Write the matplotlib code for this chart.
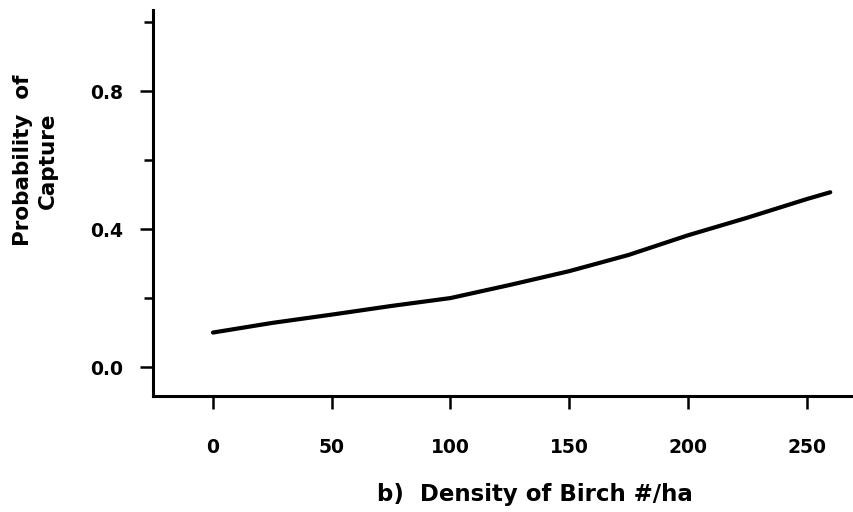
import matplotlib
matplotlib.use('Agg')
import matplotlib.pyplot as plt

# values
density = [0, 25, 50, 75, 100, 125, 150, 175, 200, 225, 250, 260]
prob = [0.100, 0.128, 0.152, 0.177, 0.200, 0.238, 0.278, 0.325, 0.382, 0.433, 0.487, 0.507]

xticks = [0, 50, 100, 150, 200, 250]
yticks = [0.0, 0.4, 0.8]
yminor = [0.2, 0.6, 1.0]

plt.rcParams['font.family'] = ['DejaVu Sans']
plt.rcParams['font.weight'] = 'bold'

fig = plt.figure(figsize=(8.54, 5.12), dpi=100)
ax = fig.add_axes([0.179, 0.2266, 0.821, 0.7534])

ax.plot(density, prob, color='black', lw=3.0, solid_capstyle='round')

ax.set_xlim(-25.3, 270)
ax.set_ylim(-0.084, 1.035)

for s in ['top', 'right']:
    ax.spines[s].set_visible(False)
for s in ['left', 'bottom']:
    ax.spines[s].set_linewidth(2.2)

ax.set_xticks(xticks)
ax.set_xticklabels([str(v) for v in xticks])
ax.set_yticks(yticks)
ax.set_yticklabels(['%.1f' % v for v in yticks])
ax.set_yticks(yminor, minor=True)

ax.tick_params(axis='x', which='major', direction='out', length=9, width=1.8,
               pad=21, labelsize=13.5)
ax.tick_params(axis='y', which='major', direction='out', length=9.5, width=1.8,
               pad=12, labelsize=13.5)
ax.tick_params(axis='y', which='minor', direction='out', length=6.5, width=1.8)

ax.set_xlabel('b)  Density of Birch #/ha', fontsize=16.5, fontweight='bold')
ax.xaxis.set_label_coords(0.545, -0.256)
ax.xaxis.label.set_va('center')

ax.set_ylabel('Probability  of\nCapture', fontsize=15.5, fontweight='bold',
              linespacing=1.3, ha='center')
ax.yaxis.set_label_coords(-0.167, 0.611)
ax.yaxis.label.set_va('center')

fig.savefig('out.png', dpi=100)
